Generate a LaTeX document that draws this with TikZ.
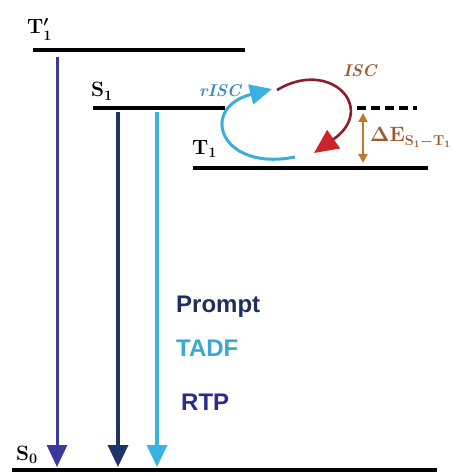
\documentclass[tikz,border=0pt]{standalone}
\usepackage{fontspec}
\newfontfamily\labsans{Liberation Sans}
\usetikzlibrary{arrows.meta}
\definecolor{purpleA}{HTML}{3A3A9C}
\definecolor{navyA}{HTML}{1E3468}
\definecolor{lblue}{HTML}{38B2E2}
\definecolor{promptc}{HTML}{1F2E60}
\definecolor{tadfc}{HTML}{3AA8D2}
\definecolor{rtpc}{HTML}{2C2C8C}
\definecolor{riscc}{HTML}{3D8DB8}
\definecolor{iscc}{HTML}{9C5A2E}
\definecolor{redcurve}{HTML}{8E1C2C}
\definecolor{redhead}{HTML}{C8262A}
\definecolor{cyancurve}{HTML}{3AAFD6}
\definecolor{deltac}{HTML}{C0782E}
\begin{document}
\begin{tikzpicture}[x=1pt,y=-1pt,
  level/.style={line width=4pt},
  emit/.style={line width=3.5pt,-{Triangle[width=20pt,length=22pt]}},
  lvlabel/.style={anchor=base west,inner sep=0pt,font=\fontsize{22}{26}\selectfont\boldmath},
  kind/.style={anchor=base west,inner sep=0pt,font=\labsans\bfseries\fontsize{24}{28}\selectfont},
  proc/.style={anchor=base west,inner sep=0pt,font=\bfseries\itshape\fontsize{17}{20}\selectfont}]
\useasboundingbox (0,0) rectangle (451,473);
% level end points
\coordinate (tpL) at (33,50);  \coordinate (tpR) at (245,50);
\coordinate (sL) at (93,108);  \coordinate (sR) at (225,108);
\coordinate (tL) at (193,168); \coordinate (tR) at (428,168);
\coordinate (dL) at (357,108); \coordinate (dR) at (417,108);
\coordinate (zL) at (12,470);  \coordinate (zR) at (437,470);
\draw[level] (tpL) -- (tpR);
\draw[level] (sL) -- (sR);
\draw[level] (tL) -- (tR);
\draw[level] (zL) -- (zR);
\draw[line width=4pt,dash pattern=on 9pt off 5pt] (dL) -- (dR);
% labels
\node[lvlabel] (lT1p) at (27,34) {$\mathbf{T}'_{\mathbf{1}}$};
\node[lvlabel] (lS1) at (91,97) {$\mathbf{S}_{\mathbf{1}}$};
\node[lvlabel] (lT1) at (192,154) {$\mathbf{T}_{\mathbf{1}}$};
\node[lvlabel] (lS0) at (16,460) {$\mathbf{S}_{\mathbf{0}}$};
% emission arrows
\coordinate (a1s) at (57,57);  \coordinate (a1e) at (57,467);
\coordinate (a2s) at (118,112); \coordinate (a2e) at (118,467);
\coordinate (a3s) at (157,112); \coordinate (a3e) at (157,467);
\draw[emit,purpleA,line width=3pt] (a1s) -- (a1e);
\draw[emit,navyA] (a2s) -- (a2e);
\draw[emit,lblue] (a3s) -- (a3e);
\node[kind,text=promptc] (prompt) at (176,312) {Prompt};
\node[kind,text=tadfc] (tadf) at (176,356) {TADF};
\node[kind,text=rtpc] (rtp) at (181,410) {RTP};
% rISC / ISC loops
\coordinate (rs) at (295,157); \coordinate (re) at (272,89);
\draw[cyancurve,line width=3pt,-{Triangle[width=20pt,length=22pt,fill=lblue,color=lblue]}]
  (rs) .. controls (220,172) and (198,108) .. (re);
\coordinate (is) at (277,90); \coordinate (ie) at (314,153);
\draw[redcurve,line width=2.6pt,-{Triangle[width=22pt,length=24pt,color=redhead,fill=redhead]}]
  (is) .. controls (330,58) and (378,108) .. (ie);
\node[proc,text=riscc] (risc) at (199,97) {rISC};
\node[proc,text=iscc] (isc) at (343,77) {ISC};
% energy gap
\coordinate (gT) at (363,113); \coordinate (gB) at (363,163);
\draw[deltac,line width=2pt,{Triangle[width=9pt,length=9pt]}-{Triangle[width=9pt,length=9pt]}] (gT) -- (gB);
\node[lvlabel,font=\fontsize{20}{24}\selectfont\boldmath,text=iscc] (gap) at (370,142) {$\Delta\mathbf{E}_{\mathbf{S_1-T_1}}$};
\end{tikzpicture}
\end{document}
